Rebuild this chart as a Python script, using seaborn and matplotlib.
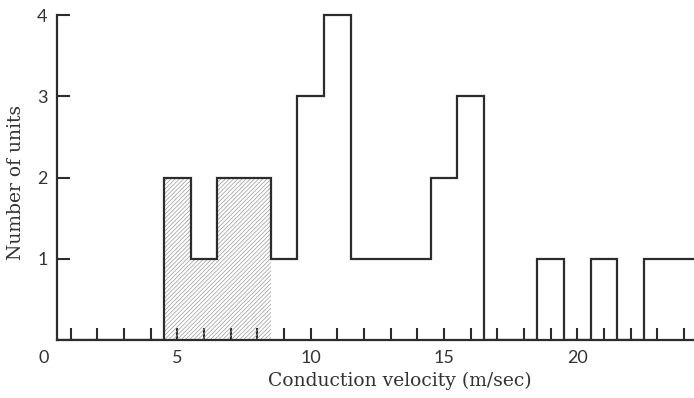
import matplotlib
matplotlib.use("Agg")
import matplotlib.pyplot as plt
import seaborn as sns
import numpy as np
import pandas as pd

# ---- data ----
velocity = [5, 6, 7, 8, 9, 10, 11, 12, 13, 14, 15, 16, 19, 21, 23, 24]
units = [2, 1, 2, 2, 1, 3, 4, 1, 1, 1, 2, 3, 1, 1, 1, 1]
shaded_velocity = [5, 6, 7, 8]
shaded_units = [2, 1, 2, 2]
x_tick_values = list(range(0, 25))
x_tick_labels = {0: "0", 5: "5", 10: "10", 15: "15", 20: "20"}
y_tick_values = [1, 2, 3, 4]
x_label = "Conduction velocity (m/sec)"
y_label = "Number of units"

sns.set_style("white")
plt.rcParams["font.family"] = ["Lato", "DejaVu Sans"]
plt.rcParams["hatch.linewidth"] = 0.5
plt.rcParams["hatch.color"] = "#9a9a9a"

INK = "#2c2c2c"

df_all = pd.DataFrame({"v": velocity, "n": units})
df_sh = pd.DataFrame({"v": shaded_velocity, "n": shaded_units})

fig = plt.figure(figsize=(6.94, 3.98), dpi=100)
AX_H = 4.03 * 81.25
ax = fig.add_axes([44 / 694, 58 / 398, 650 / 694, AX_H / 398])

bins = [b + 0.5 for b in range(0, 25)]

# hatched region
sns.histplot(data=df_sh, x="v", weights="n", bins=bins, element="bars",
             fill=True, hatch="////////", facecolor="none", edgecolor="#9a9a9a",
             linewidth=0, ax=ax)

# outline
sns.histplot(data=df_all, x="v", weights="n", bins=bins, element="step", fill=False,
             color=INK, linewidth=1.6, ax=ax)
for ln in ax.lines:
    ln.set_solid_joinstyle("miter")

ax.set_xlim(0, 24.37)
ax.set_ylim(0, 4.03)

for s in ["top", "right"]:
    ax.spines[s].set_visible(False)
ax.spines["left"].set_position(("data", 0.5))
ax.spines["left"].set_bounds(0, 4)
ax.spines["bottom"].set_bounds(0.5, 24.37)
for s in ["left", "bottom"]:
    ax.spines[s].set_linewidth(1.6)
    ax.spines[s].set_color(INK)

ax.set_xticks(x_tick_values)
ax.set_xticklabels([x_tick_labels.get(v, "") for v in x_tick_values])
ax.set_yticks(y_tick_values)
ax.set_yticklabels([str(v) for v in y_tick_values])

ax.tick_params(axis="x", direction="in", length=8.5, width=1.5, color=INK,
               pad=7, labelsize=13, labelcolor="#333333", bottom=True)
ax.tick_params(axis="y", direction="in", length=9.5, width=1.5, color=INK,
               pad=7, labelsize=13, labelcolor="#333333", left=True)
ax.xaxis.get_major_ticks()[0].tick1line.set_visible(False)

ax.set_xlabel(x_label, family="DejaVu Serif", fontsize=13.5, color="#333333")
ax.set_ylabel(y_label, family="DejaVu Serif", fontsize=13.5, color="#333333")
ax.xaxis.set_label_coords((400 - 44) / 650, (340 - 372) / AX_H)
ax.yaxis.set_label_coords((25 - 44) / 650, (340 - 182) / AX_H)

fig.savefig("out.png", dpi=100)
